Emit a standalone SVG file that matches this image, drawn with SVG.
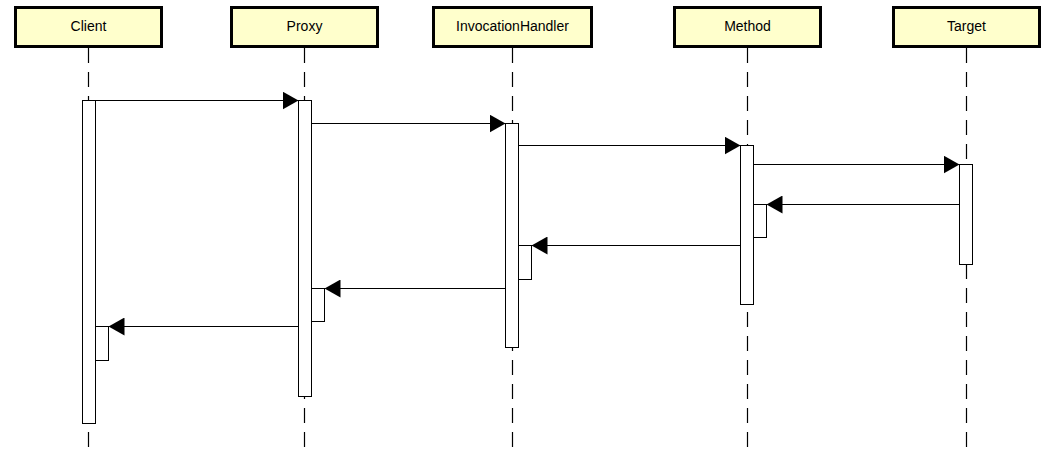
<svg xmlns="http://www.w3.org/2000/svg" width="1052" height="462" viewBox="0 0 1052 462">
<style>
.head{fill:#ffffcc;stroke:#000;stroke-width:3}
.lbl{font-family:"Liberation Sans",Arial,sans-serif;font-size:14px;fill:#000;text-anchor:middle}
.life{stroke:#000;stroke-width:1.2;stroke-dasharray:15 9;fill:none}
.bar{fill:#fff;stroke:#000;stroke-width:1}
.msg{stroke:#000;stroke-width:1;fill:none;marker-end:url(#arr)}
</style>
<defs>
<marker id="arr" viewBox="0 0 16 18" refX="16" refY="9" markerWidth="16" markerHeight="18" markerUnits="userSpaceOnUse" orient="auto">
<path d="M0,0 L16,9 L0,18 z" fill="#000"/>
</marker>
</defs>
<rect width="1052" height="462" fill="#fff"/>
<g id="lifelines">
<line class="life" x1="88.5" y1="48" x2="88.5" y2="447"/>
<line class="life" x1="304.5" y1="48" x2="304.5" y2="447"/>
<line class="life" x1="512.5" y1="48" x2="512.5" y2="447"/>
<line class="life" x1="747.5" y1="48" x2="747.5" y2="447"/>
<line class="life" x1="966.5" y1="48" x2="966.5" y2="447"/>
</g>
<g id="Client">
<rect class="head" x="15.5" y="7.5" width="146" height="39"/>
<text class="lbl" x="88.5" y="31">Client</text>
<rect class="bar" x="82.5" y="100.5" width="13" height="323"/>
<rect class="bar" x="95.5" y="326.5" width="13" height="34"/>
</g>
<g id="Proxy">
<rect class="head" x="231.5" y="7.5" width="146" height="39"/>
<text class="lbl" x="304.5" y="31">Proxy</text>
<rect class="bar" x="298.5" y="100.5" width="13" height="296"/>
<rect class="bar" x="311.5" y="288.5" width="13" height="33"/>
</g>
<g id="InvocationHandler">
<rect class="head" x="433.5" y="7.5" width="158" height="39"/>
<text class="lbl" x="512.5" y="31">InvocationHandler</text>
<rect class="bar" x="505.5" y="123.5" width="13" height="224"/>
<rect class="bar" x="518.5" y="245.5" width="13" height="34"/>
</g>
<g id="Method">
<rect class="head" x="674.5" y="7.5" width="146" height="39"/>
<text class="lbl" x="747.5" y="31">Method</text>
<rect class="bar" x="740.5" y="145.5" width="13" height="159"/>
<rect class="bar" x="753.5" y="204.5" width="13" height="33"/>
</g>
<g id="Target">
<rect class="head" x="893.5" y="7.5" width="146" height="39"/>
<text class="lbl" x="966.5" y="31">Target</text>
<rect class="bar" x="959.5" y="164.5" width="13" height="100"/>
</g>
<g id="connectors">
<line class="msg" x1="95.5" y1="100.5" x2="298.5" y2="100.5"/>
<line class="msg" x1="311.5" y1="123.5" x2="505.5" y2="123.5"/>
<line class="msg" x1="518.5" y1="145.5" x2="740.5" y2="145.5"/>
<line class="msg" x1="753.5" y1="164.5" x2="959.5" y2="164.5"/>
<line class="msg" x1="959.5" y1="204.5" x2="766.5" y2="204.5"/>
<line class="msg" x1="740.5" y1="245.5" x2="531.5" y2="245.5"/>
<line class="msg" x1="505.5" y1="288.5" x2="324.5" y2="288.5"/>
<line class="msg" x1="298.5" y1="326.5" x2="108.5" y2="326.5"/>
</g>
</svg>
